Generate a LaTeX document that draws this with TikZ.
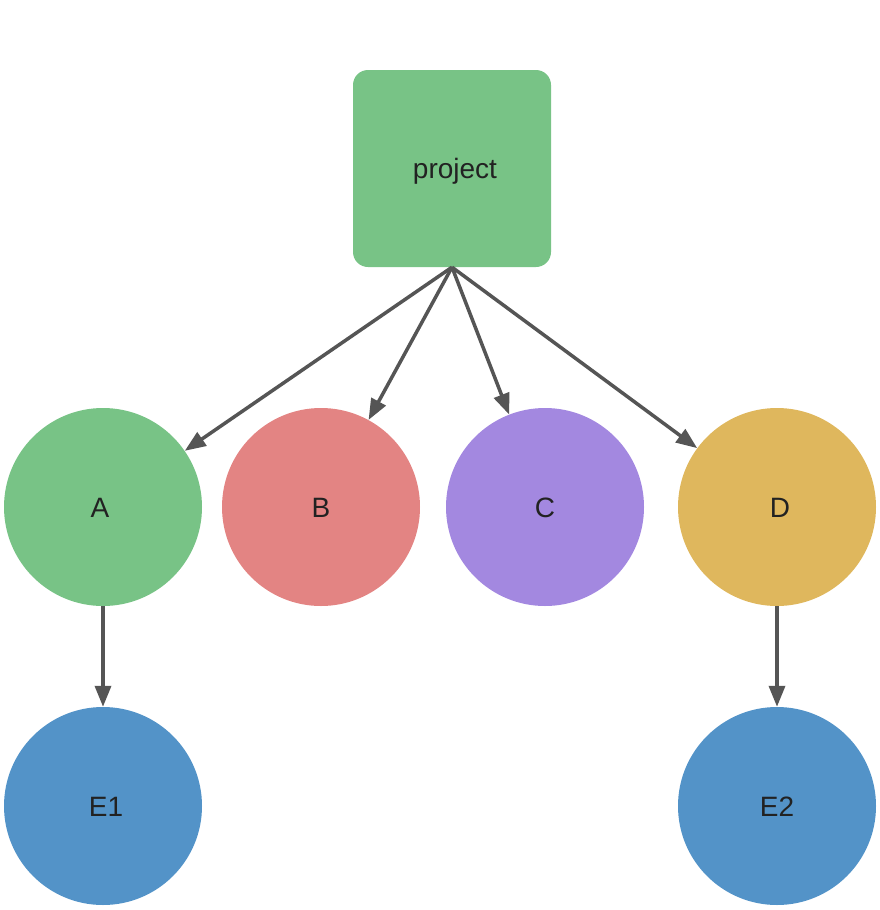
\documentclass[tikz,border=0pt]{standalone}
\usepackage{fontspec}
\setmainfont{Liberation Sans}
\usetikzlibrary{arrows.meta}
\definecolor{cgreen}{HTML}{78C386}
\definecolor{cred}{HTML}{E38483}
\definecolor{cpurple}{HTML}{A388E0}
\definecolor{cyellow}{HTML}{DFB75D}
\definecolor{cblue}{HTML}{5393C8}
\definecolor{cedge}{HTML}{555555}
\definecolor{ctext}{HTML}{222222}
\begin{document}
\begin{tikzpicture}[x=1pt,y=-1pt,
  lbl/.style={text=ctext,font=\fontsize{28}{32}\selectfont},
  circ/.style={circle,draw=none,minimum size=198pt,inner sep=0pt,lbl},
  boxnode/.style={rectangle,rounded corners=15pt,draw=none,minimum width=198pt,minimum height=197pt,inner sep=0pt,lbl},
  edge/.style={draw=cedge,line width=3.5pt,-{Triangle[length=21pt,width=16pt]}}]
\useasboundingbox (0,0) rectangle (880,910);
\node[boxnode,fill=cgreen] (P) at (452,168.5) {};
\node[lbl] (Pt) at (455,171) {project};
\node[circ,fill=cgreen] (A) at (103,507) {};
\node[lbl] (At) at (100,508) {A};
\node[circ,fill=cred] (B) at (321,507) {};
\node[lbl] (Bt) at (321,508) {B};
\node[circ,fill=cpurple] (C) at (545,507) {};
\node[lbl] (Ct) at (545,508) {C};
\node[circ,fill=cyellow] (D) at (777,507) {};
\node[lbl] (Dt) at (780,508) {D};
\node[circ,fill=cblue] (E1) at (103,806) {};
\node[lbl] (E1t) at (106,807) {E1};
\node[circ,fill=cblue] (E2) at (777,806) {};
\node[lbl] (E2t) at (777,807) {E2};
\coordinate (ps) at (P.south);
\draw[edge] (ps) -- (A);
\draw[edge] (ps) -- (B);
\draw[edge] (ps) -- (C);
\draw[edge] (ps) -- (D);
\draw[edge] (A) -- (E1);
\draw[edge] (D) -- (E2);
\end{tikzpicture}
\end{document}
